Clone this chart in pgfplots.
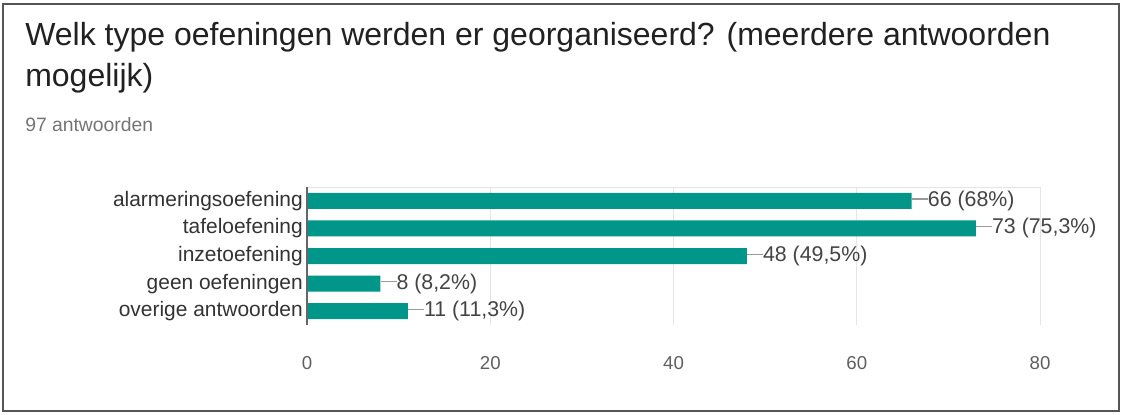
\documentclass[border=0pt]{standalone}
\usepackage{pgfplots}
\pgfplotsset{compat=1.18}
\usepackage{fontspec}
\setmainfont{Liberation Sans}
\definecolor{barc}{HTML}{00968A}
\definecolor{framec}{HTML}{555555}
\definecolor{titlec}{HTML}{212121}
\definecolor{subc}{HTML}{757575}
\definecolor{labc}{HTML}{333333}
\definecolor{valc}{HTML}{444444}
\definecolor{tickc}{HTML}{5f5f5f}
\definecolor{linec}{HTML}{999999}
\begin{document}
\begin{tikzpicture}[x=0.75pt,y=-0.75pt]
\useasboundingbox (0,0) rectangle (1123,414);
\draw[fill=white, draw=framec, line width=1pt] (3,4) rectangle (1119,411);
\node[anchor=base west, inner sep=0, font=\fontsize{24}{28}\selectfont, text=titlec] at (25,45) {Welk type oefeningen werden er georganiseerd? (meerdere antwoorden};
\node[anchor=base west, inner sep=0, font=\fontsize{24}{28}\selectfont, text=titlec] at (25,86) {mogelijk)};
\node[anchor=base west, inner sep=0, font=\fontsize{14.5}{17}\selectfont, text=subc] at (25,131) {97 antwoorden};
\coordinate (A) at (307,325);
\begin{axis}[
  at={(A)}, anchor=south west,
  scale only axis, width=549.75pt, height=103.5pt,
  xbar, bar width=12pt,
  xmin=0, xmax=80, ymin=-0.5, ymax=4.5,
  y dir=reverse,
  ytick={0,1,2,3,4},
  yticklabels={alarmeringsoefening,tafeloefening,inzetoefening,geen oefeningen,overige antwoorden},
  xtick={0,20,40,60,80},
  xmajorgrids, grid style={black!10, line width=0.6pt},
  axis line style={draw=none},
  major tick length=0pt,
  /pgf/number format/assume math mode=true,
  yticklabel style={font=\fontsize{15.7}{18}\selectfont, text=labc, inner xsep=0pt, xshift=-3pt},
  xticklabel style={font=\fontsize{14}{16}\selectfont, text=tickc, anchor=base, yshift=-33pt},
  point meta=explicit symbolic,
  nodes near coords={\textcolor{linec}{\rule[0.32em]{12pt}{0.8pt}}\pgfplotspointmeta},
  every node near coord/.append style={font=\fontsize{16}{18}\selectfont, text=valc, inner xsep=0pt, anchor=west},
  clip=false,
]
\addplot[fill=barc, draw=none] coordinates {
  (66,0) [66 (68\%)]
  (73,1) [73 (75,3\%)]
  (48,2) [48 (49,5\%)]
  (8,3) [8 (8,2\%)]
  (11,4) [11 (11,3\%)]
};
\draw[black!10, line width=0.6pt] (axis cs:0,-0.5) -- (axis cs:80,-0.5);
\draw[black!60, line width=1pt] (axis cs:0,-0.5) -- (axis cs:0,4.5);
\end{axis}
\end{tikzpicture}
\end{document}
